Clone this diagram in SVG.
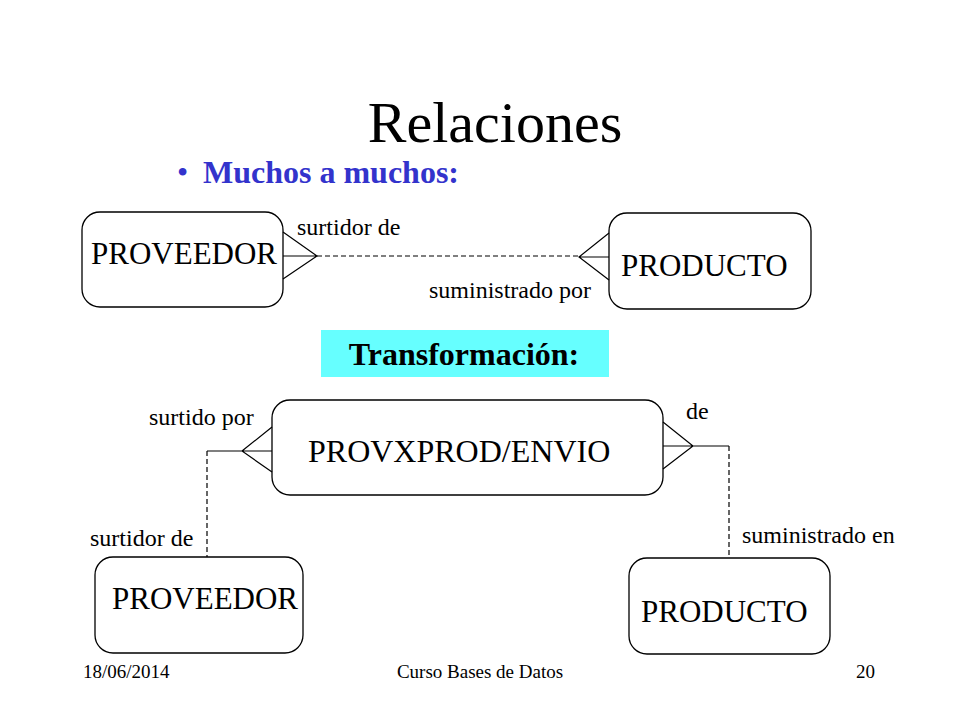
<svg xmlns="http://www.w3.org/2000/svg" width="960" height="720" viewBox="0 0 960 720">
<style>
.box{fill:#fff;stroke:#000;stroke-width:1.3}
.ent{font-family:"Liberation Serif","Times New Roman",serif;font-size:31px;fill:#000}
.lbl{font-family:"Liberation Serif","Times New Roman",serif;font-size:24px;fill:#000}
.foot{font-family:"Liberation Serif","Times New Roman",serif;font-size:19px;fill:#000}
.ln{fill:none;stroke:#000;stroke-width:1.2}
.dash{fill:none;stroke:#000;stroke-width:1.2;stroke-dasharray:5 3}
</style>
<rect width="960" height="720" fill="#fff"/>
<text x="495" y="142" text-anchor="middle" font-family="Liberation Serif, Times New Roman, serif" font-size="58">Relaciones</text>
<text x="177" y="183" font-family="Liberation Serif, Times New Roman, serif" font-size="32" fill="#3333CC">•</text>
<text x="203" y="183" font-family="Liberation Serif, Times New Roman, serif" font-size="32" font-weight="bold" fill="#3333CC">Muchos a muchos:</text>

<g id="proveedor1">
<rect class="box" x="82" y="212" width="201" height="95" rx="18"/>
<text class="ent" x="91" y="264">PROVEEDOR</text>
</g>
<g id="producto1">
<rect class="box" x="609" y="213" width="202" height="96" rx="18"/>
<text class="ent" x="621" y="276">PRODUCTO</text>
</g>
<g id="transformacion">
<rect x="321" y="330" width="288" height="47" fill="#66FFFF"/>
<text x="464" y="365" text-anchor="middle" font-family="Liberation Serif, Times New Roman, serif" font-size="32" font-weight="bold">Transformación:</text>
</g>
<g id="provxprod">
<rect class="box" x="272" y="400" width="391" height="95" rx="18"/>
<text class="ent" x="308" y="462" style="font-size:32px">PROVXPROD/ENVIO</text>
</g>
<g id="proveedor2">
<rect class="box" x="95" y="557" width="208" height="96" rx="18"/>
<text class="ent" x="112" y="609">PROVEEDOR</text>
</g>
<g id="producto2">
<rect class="box" x="629" y="558" width="201" height="96" rx="18"/>
<text class="ent" x="641" y="622">PRODUCTO</text>
</g>

<g id="connectors">
<path class="ln" d="M283,232 L317,256 L283,279 M283,256 H317"/>
<path class="dash" d="M317,256 H579"/>
<path class="ln" d="M609,233 L579,257 L609,280 M579,257 H609"/>
<path class="ln" d="M272,427 L242,451 L272,472 M207,451 H272"/>
<path class="dash" d="M207,451 V557"/>
<path class="ln" d="M663,422 L693,446 L663,469 M663,446 H729"/>
<path class="dash" d="M729,446 V558"/>
</g>

<g id="labels">
<text class="lbl" x="297" y="235">surtidor de</text>
<text class="lbl" x="429" y="298">suministrado por</text>
<text class="lbl" x="149" y="425">surtido por</text>
<text class="lbl" x="686" y="419">de</text>
<text class="lbl" x="90" y="546">surtidor de</text>
<text class="lbl" x="742" y="543">suministrado en</text>
</g>

<text class="foot" x="83" y="678">18/06/2014</text>
<text class="foot" x="480" y="678" text-anchor="middle">Curso Bases de Datos</text>
<text class="foot" x="856" y="678">20</text>
</svg>
